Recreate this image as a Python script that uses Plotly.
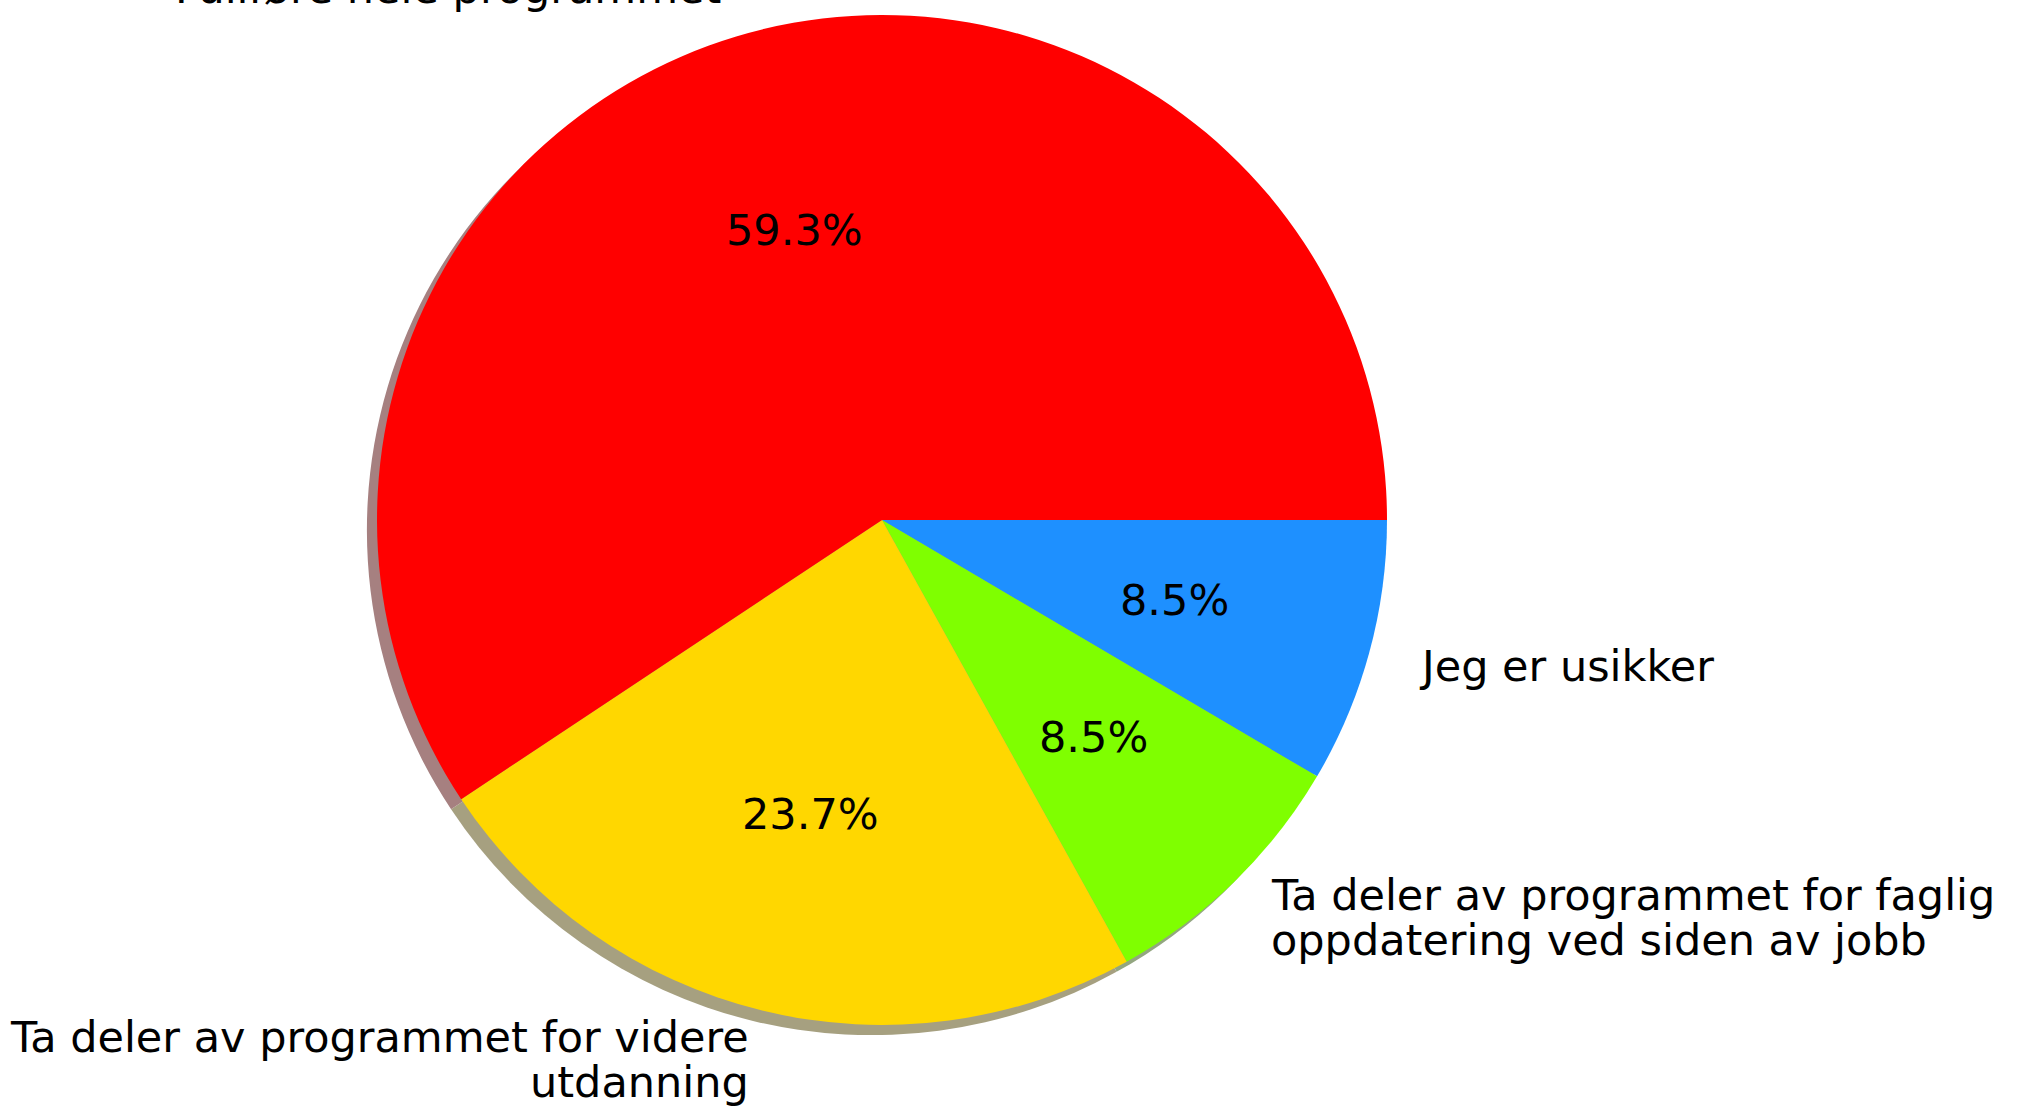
import numpy as np
import plotly.graph_objects as go

labels = ["Fullføre hele programmet",
          "Ta deler av programmet for videre\nutdanning",
          "Ta deler av programmet for faglig\noppdatering ved siden av jobb",
          "Jeg er usikker"]
counts = [35, 14, 5, 5]
colors = [(255, 0, 0), (255, 215, 0), (127, 255, 0), (30, 144, 255)]

W, H = 2023, 1109
cx, cy, R = 882, 520, 505   # pie centre / radius in pixels (from top-left)
shadow_off = 0.02 * R
FONT = dict(family="DejaVu Sans", size=43, color="black")
LINE_H = 45


def dom(x0, y0):
    return dict(x=[(x0 - R) / W, (x0 + R) / W],
                y=[1 - (y0 + R) / H, 1 - (y0 - R) / H])


def rgb(c):
    return "rgb(%d,%d,%d)" % c


# matplotlib style shadow: 0.3 * colour, alpha 0.5 on white
shadow = ["rgb(%d,%d,%d)" % tuple(int(round(0.5 * 0.3 * v + 0.5 * 255)) for v in c) for c in colors]

# matplotlib goes counterclockwise from 3 o'clock; same layout = reversed order clockwise
fig = go.Figure()
fig.add_trace(go.Pie(values=counts[::-1], labels=labels[::-1], sort=False, direction="clockwise",
                     rotation=90, textinfo="none", hoverinfo="skip", showlegend=False,
                     marker=dict(colors=shadow[::-1], line=dict(width=0)),
                     domain=dom(cx - shadow_off, cy + shadow_off)))
fig.add_trace(go.Pie(values=counts[::-1], labels=labels[::-1], sort=False, direction="clockwise",
                     rotation=90, textinfo="none", showlegend=False,
                     marker=dict(colors=[rgb(c) for c in colors][::-1], line=dict(width=0)),
                     domain=dom(cx, cy)))

# labels placed like matplotlib: names at 1.1 r, percentages at 0.6 r
total = sum(counts)
start = 0.0
annotations = []
for lab, v in zip(labels, counts):
    frac = v / total
    mid = np.deg2rad((start + frac / 2) * 360)
    start += frac
    x = np.cos(mid)
    y = np.sin(mid)

    lx = cx + 1.1 * R * x
    ly = cy - 1.1 * R * y
    lines = lab.split("\n")
    for i, line in enumerate(lines):
        off = (i - (len(lines) - 1) / 2) * LINE_H
        annotations.append(dict(text=line, xref="paper", yref="paper",
                                x=lx / W, y=1 - (ly + off) / H,
                                xanchor="left" if x > 0 else "right", yanchor="middle",
                                showarrow=False, font=FONT, borderpad=0))

    px_ = cx + 0.6 * R * x
    py_ = cy - 0.6 * R * y
    annotations.append(dict(text="%.1f%%" % (frac * 100), xref="paper", yref="paper",
                            x=px_ / W, y=1 - py_ / H, xanchor="center", yanchor="middle",
                            showarrow=False, font=FONT, borderpad=0))

fig.update_layout(width=W, height=H, margin=dict(l=0, r=0, t=0, b=0),
                  paper_bgcolor="white", plot_bgcolor="white",
                  annotations=annotations, font=FONT)

fig.write_html("out.html", config={"displayModeBar": False},
               post_script="document.body.style.margin='0';")
